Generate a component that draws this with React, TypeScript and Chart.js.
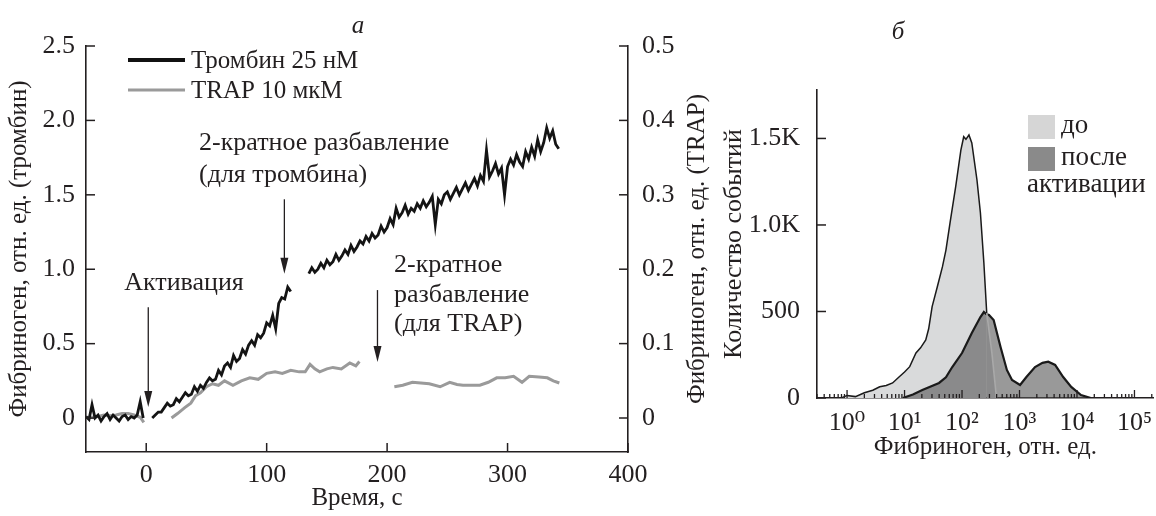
import React, { useEffect, useRef } from "react";
import { Chart, registerables } from "chart.js";

Chart.register(...registerables);

const FONT = '"Liberation Serif", "Times New Roman", "DejaVu Serif", serif';
const INK = "#231f20";

// ---------- Panel а: fibrinogen binding vs time ----------
const thrTimesPre = [-50, -47.5, -45, -42.5, -40, -37.5, -35, -32.5, -30, -27.5, -25, -22.5, -20, -17.5, -15, -12.5, -10, -7.5, -5, -2.5];
const thrValsPre = [0.01, -0.01, 0.09, 0.0, 0.02, -0.02, 0.01, 0.03, -0.01, 0.02, 0.0, -0.02, 0.01, 0.02, -0.01, 0.01, 0.0, 0.02, 0.11, 0.0];

const thrTimes1 = [5, 7.5, 10, 12.5, 15, 17.5, 20, 22.5, 25, 27.5, 30, 32.5, 35, 37.5, 40, 42.5, 45, 47.5, 50, 52.5, 55, 57.5, 60, 62.5, 65, 67.5, 70, 72.5, 75, 77.5, 80, 82.5, 85, 87.5, 90, 92.5, 95, 97.5, 100, 102.5, 105, 107.5, 110, 112.5, 115, 117.5, 120];
const thrVals1 = [0.0, 0.02, 0.04, 0.04, 0.07, 0.1, 0.08, 0.09, 0.13, 0.11, 0.14, 0.17, 0.15, 0.16, 0.21, 0.18, 0.22, 0.2, 0.24, 0.27, 0.25, 0.26, 0.32, 0.29, 0.35, 0.37, 0.34, 0.42, 0.38, 0.4, 0.46, 0.43, 0.49, 0.52, 0.49, 0.56, 0.54, 0.57, 0.64, 0.62, 0.69, 0.6, 0.77, 0.81, 0.8, 0.88, 0.85];

const thrTimes2 = [135, 137.5, 140, 142.5, 145, 147.5, 150, 152.5, 155, 157.5, 160, 162.5, 165, 167.5, 170, 172.5, 175, 177.5, 180, 182.5, 185, 187.5, 190, 192.5, 195, 197.5, 200, 202.5, 205, 207.5, 210, 212.5, 215, 217.5, 220, 222.5, 225, 227.5, 230, 232.5, 235, 237.5, 240, 242.5, 245, 247.5, 250, 252.5, 255, 257.5, 260, 262.5, 265, 267.5, 270, 272.5, 275, 277.5, 280, 282.5, 285, 287.5, 290, 292.5, 295, 297.5, 300, 302.5, 305, 307.5, 310, 312.5, 315, 317.5, 320, 322.5, 325, 327.5, 330, 332.5, 335, 337.5, 340, 342.5];
const thrVals2 = [0.97, 1.01, 0.98, 1.0, 1.04, 1.01, 1.06, 1.03, 1.05, 1.1, 1.06, 1.09, 1.13, 1.1, 1.16, 1.12, 1.15, 1.19, 1.17, 1.22, 1.19, 1.24, 1.21, 1.23, 1.29, 1.25, 1.28, 1.34, 1.3, 1.41, 1.35, 1.38, 1.43, 1.37, 1.41, 1.39, 1.44, 1.41, 1.46, 1.42, 1.45, 1.49, 1.3, 1.47, 1.44, 1.5, 1.52, 1.47, 1.51, 1.55, 1.5, 1.54, 1.58, 1.53, 1.57, 1.61, 1.56, 1.63, 1.59, 1.8, 1.62, 1.66, 1.71, 1.64, 1.68, 1.5, 1.69, 1.74, 1.7, 1.77, 1.72, 1.69, 1.79, 1.74, 1.82, 1.76, 1.87, 1.79, 1.85, 1.95, 1.88, 1.93, 1.84, 1.81];

const trapTimesPre = [-50, -45, -40, -35, -30, -25, -20, -15, -10, -5, -2];
const trapValsPre = [0.0, 0.001, 0.002, 0.004, 0.003, 0.004, 0.006, 0.006, 0.004, 0.001, -0.006];

const trapTimes1 = [21, 26, 32, 37, 41, 45, 50, 55, 60, 65, 72, 79, 86, 93, 100, 107, 113, 120, 127, 132, 136, 140, 144, 150, 155, 162, 169, 174, 177];
const trapVals1 = [0.0, 0.006, 0.014, 0.02, 0.03, 0.034, 0.042, 0.046, 0.044, 0.05, 0.044, 0.05, 0.054, 0.052, 0.06, 0.062, 0.06, 0.064, 0.062, 0.062, 0.072, 0.066, 0.062, 0.066, 0.068, 0.066, 0.074, 0.07, 0.076];

const trapTimes2 = [206, 213, 221, 228, 235, 244, 252, 258, 263, 270, 277, 284, 291, 298, 305, 312, 318, 326, 333, 338, 343];
const trapVals2 = [0.042, 0.044, 0.048, 0.047, 0.046, 0.042, 0.048, 0.045, 0.044, 0.044, 0.044, 0.048, 0.054, 0.054, 0.056, 0.048, 0.056, 0.055, 0.054, 0.05, 0.047];

const xTicksA = [0, 100, 200, 300, 400];
const xTickLabelsA = ["0", "100", "200", "300", "400"];
const yTicksThr = [0, 0.5, 1.0, 1.5, 2.0, 2.5];
const yTickLabelsThr = ["0", "0.5", "1.0", "1.5", "2.0", "2.5"];
const yTicksTrap = [0, 0.1, 0.2, 0.3, 0.4, 0.5];
const yTickLabelsTrap = ["0", "0.1", "0.2", "0.3", "0.4", "0.5"];

// annotation arrows (time, y-top, y-tip in thrombin units)
const arrowTimes = [1.7, 114.7, 192];
const arrowTops = [0.745, 1.47, 0.86];
const arrowTips = [0.074, 0.97, 0.376];

// ---------- Panel б: flow cytometry histogram ----------
const doFluor = [0.8, 1.0, 1.4, 2.0, 2.8, 3.7, 4.8, 6.2, 8.1, 10, 12.3, 15.8, 19, 23.4, 26.3, 30.2, 37, 45.7, 52.5, 63, 77.6, 95.5, 107, 117, 132, 148, 182, 209, 240, 269, 331, 398];
const doCount = [0, 15, 8, 30, 45, 65, 72, 87, 123, 150, 181, 260, 290, 335, 400, 528, 640, 759, 855, 1029, 1221, 1433, 1510, 1495, 1520, 1474, 1260, 1069, 780, 491, 260, 0];

const posleFluor = [9.3, 14, 20.4, 39.8, 52.5, 67.6, 100, 148, 209, 240, 263, 295, 355, 468, 603, 741, 1023, 1318, 1862, 2512, 3162, 4169, 5754, 7943, 11749, 17378];
const posleCount = [0, 20, 46, 87, 120, 179, 260, 376, 468, 497, 485, 480, 451, 295, 162, 104, 75, 121, 179, 203, 210, 191, 121, 64, 17, 0];

const xTicksB = [1, 10, 100, 1000, 10000, 100000];
const xTickLabelsB = ["10⁰", "10¹", "10²", "10³", "10⁴", "10⁵"];
const yTicksB = [0, 500, 1000, 1500];
const yTickLabelsB = ["0", "500", "1.0K", "1.5K"];

const zip = (xs: number[], ys: number[]) => xs.map((x, i) => ({ x, y: ys[i] }));

const font = (size: number, extra: any = {}) => ({ family: FONT, size, ...extra });

function line(ctx: CanvasRenderingContext2D, x1: number, y1: number, x2: number, y2: number) {
  ctx.beginPath();
  ctx.moveTo(x1, y1);
  ctx.lineTo(x2, y2);
  ctx.stroke();
}

function PanelA() {
  const ref = useRef<HTMLCanvasElement>(null);
  useEffect(() => {
    const thrData = [
      ...zip(thrTimesPre, thrValsPre),
      { x: 2, y: null },
      ...zip(thrTimes1, thrVals1),
      { x: 127, y: null },
      ...zip(thrTimes2, thrVals2),
    ];
    const trapData = [
      ...zip(trapTimesPre, trapValsPre),
      { x: 10, y: null },
      ...zip(trapTimes1, trapVals1),
      { x: 190, y: null },
      ...zip(trapTimes2, trapVals2),
    ];
    const decor = {
      id: "decorA",
      afterDraw(chart: any) {
        const { ctx, chartArea: ca, scales } = chart;
        const x = scales.x, y = scales.y, y1 = scales.y1;
        ctx.save();
        ctx.strokeStyle = INK;
        ctx.fillStyle = INK;
        ctx.lineWidth = 1.5;
        x.ticks.forEach((t: any) => {
          const px = x.getPixelForValue(t.value);
          line(ctx, px, ca.bottom, px, ca.bottom - 9);
        });
        y.ticks.forEach((t: any) => {
          const py = y.getPixelForValue(t.value);
          line(ctx, ca.left, py, ca.left + 9, py);
        });
        y1.ticks.forEach((t: any) => {
          const py = y1.getPixelForValue(t.value);
          line(ctx, ca.right, py, ca.right - 9, py);
        });
        // arrows
        ctx.lineWidth = 1.3;
        arrowTimes.forEach((t, i) => {
          const px = x.getPixelForValue(t);
          const p1 = y.getPixelForValue(arrowTops[i]);
          const p2 = y.getPixelForValue(arrowTips[i]);
          line(ctx, px, p1, px, p2 - 10);
          ctx.beginPath();
          ctx.moveTo(px, p2);
          ctx.lineTo(px - 4, p2 - 16);
          ctx.lineTo(px + 4, p2 - 16);
          ctx.closePath();
          ctx.fill();
        });
        // annotation texts
        ctx.font = `26px ${FONT}`;
        ctx.textBaseline = "middle";
        ctx.textAlign = "center";
        ctx.fillText("Активация", 184, 283);
        ctx.textAlign = "left";
        ctx.fillText("2-кратное разбавление", 199, 143);
        ctx.fillText("(для тромбина)", 199, 175);
        ctx.fillText("2-кратное", 394, 265);
        ctx.fillText("разбавление", 394, 295);
        ctx.fillText("(для TRAP)", 394, 324);
        // legend
        ctx.lineWidth = 4;
        ctx.strokeStyle = "#111";
        line(ctx, 128, 60, 185, 60);
        ctx.lineWidth = 3;
        ctx.strokeStyle = "#9a9a9a";
        line(ctx, 128, 90, 185, 90);
        ctx.font = `25px ${FONT}`;
        ctx.fillText("Тромбин 25 нМ", 191, 61);
        ctx.fillText("TRAP 10 мкМ", 191, 91);
        // panel letter
        ctx.textAlign = "center";
        ctx.font = `italic 25px ${FONT}`;
        ctx.fillText("а", 358, 26);
        // right axis title (reads bottom-to-top)
        ctx.save();
        ctx.translate(697, (ca.top + ca.bottom) / 2);
        ctx.rotate(-Math.PI / 2);
        ctx.font = `25px ${FONT}`;
        ctx.fillText("Фибриноген, отн. ед. (TRAP)", 0, 0);
        ctx.restore();
        ctx.restore();
      },
    };
    const chart = new Chart(ref.current!, {
      type: "line",
      data: {
        datasets: [
          {
            label: "Тромбин 25 нМ",
            data: thrData as any,
            borderColor: "#141414",
            borderWidth: 2.8,
            pointRadius: 0,
            tension: 0,
            spanGaps: false,
            yAxisID: "y",
          },
          {
            label: "TRAP 10 мкМ",
            data: trapData as any,
            borderColor: "#9a9a9a",
            borderWidth: 3,
            pointRadius: 0,
            tension: 0,
            spanGaps: false,
            yAxisID: "y1",
          },
        ],
      },
      options: {
        responsive: false,
        animation: false,
        devicePixelRatio: 1,
        layout: { padding: { top: 46, left: 0, right: 0, bottom: 0 } },
        plugins: { legend: { display: false }, tooltip: { enabled: false } },
        scales: {
          x: {
            type: "linear",
            min: -50,
            max: 400,
            afterBuildTicks: (s: any) => {
              s.ticks = xTicksA.map((v) => ({ value: v }));
            },
            ticks: {
              autoSkip: false,
              maxRotation: 0,
              padding: 2,
              color: INK,
              font: font(26, { lineHeight: 1 }),
              callback: (_v: any, i: number) => xTickLabelsA[i],
            },
            grid: { display: false },
            border: { color: INK, width: 1.6 },
            title: {
              display: true,
              text: "Время, с",
              color: INK,
              font: font(25),
              padding: { top: 0, bottom: 3 },
            },
            afterFit: (s: any) => {
              s.height = 64;
            },
          },
          y: {
            type: "linear",
            position: "left",
            min: -0.228,
            max: 2.5,
            afterBuildTicks: (s: any) => {
              s.ticks = yTicksThr.map((v) => ({ value: v }));
            },
            ticks: {
              autoSkip: false,
              padding: 3,
              color: INK,
              font: font(26),
              callback: (_v: any, i: number) => yTickLabelsThr[i],
            },
            grid: { display: false },
            border: { color: INK, width: 1.6 },
            title: {
              display: true,
              text: "Фибриноген, отн. ед. (тромбин)",
              color: INK,
              font: font(25),
              padding: { top: 4, bottom: 0 },
            },
            afterFit: (s: any) => {
              s.width = 86;
            },
          },
          y1: {
            type: "linear",
            position: "right",
            min: -0.0457,
            max: 0.5,
            afterBuildTicks: (s: any) => {
              s.ticks = yTicksTrap.map((v) => ({ value: v }));
            },
            ticks: {
              autoSkip: false,
              padding: 6,
              color: INK,
              font: font(26),
              callback: (_v: any, i: number) => yTickLabelsTrap[i],
            },
            grid: { display: false },
            border: { color: INK, width: 1.6 },
            afterFit: (s: any) => {
              s.width = 84;
            },
          },
        },
      } as any,
      plugins: [decor],
    });
    return () => chart.destroy();
  }, []);
  return <canvas ref={ref} width={712} height={516} style={{ position: "absolute", left: 0, top: 0 }} />;
}

function PanelB() {
  const ref = useRef<HTMLCanvasElement>(null);
  useEffect(() => {
    const doPts = zip(doFluor, doCount);
    const posle = zip(posleFluor, posleCount);
    const tail = doPts.filter((p) => p.x >= 269);
    const decor = {
      id: "decorB",
      afterDraw(chart: any) {
        const { ctx, chartArea: ca, scales } = chart;
        const x = scales.x, y = scales.y;
        ctx.save();
        ctx.strokeStyle = INK;
        ctx.fillStyle = INK;
        ctx.lineWidth = 1.3;
        for (let d = -1; d <= 5; d++) {
          for (let k = 1; k <= 9; k++) {
            const v = k * Math.pow(10, d);
            if (v < x.min || v > x.max) continue;
            const px = x.getPixelForValue(v);
            line(ctx, px, ca.bottom, px, ca.bottom - (k === 1 ? 8 : 4));
          }
        }
        ctx.lineWidth = 1.5;
        y.ticks.forEach((t: any) => {
          const py = y.getPixelForValue(t.value);
          line(ctx, ca.left, py, ca.left + 9, py);
        });
        // legend
        ctx.fillStyle = "#d6d6d6";
        ctx.fillRect(316, 115, 27, 24);
        ctx.fillStyle = "#8a8a8a";
        ctx.fillRect(316, 147, 27, 24);
        ctx.fillStyle = INK;
        ctx.font = `27px ${FONT}`;
        ctx.textBaseline = "middle";
        ctx.textAlign = "left";
        ctx.fillText("до", 349, 126);
        ctx.fillText("после", 349, 158);
        ctx.fillText("активации", 315, 185);
        // panel letter
        ctx.textAlign = "center";
        ctx.font = `italic 25px ${FONT}`;
        ctx.fillText("б", 186, 32);
        ctx.restore();
      },
    };
    const chart = new Chart(ref.current!, {
      type: "line",
      data: {
        datasets: [
          {
            label: "до (хвост)",
            data: tail as any,
            borderColor: "#a9a9a9",
            borderWidth: 1.6,
            pointRadius: 0,
            fill: false,
            order: 0,
          },
          {
            label: "после активации",
            data: posle as any,
            borderColor: "#1a1a1a",
            borderWidth: 2.2,
            backgroundColor: "rgba(85,85,85,0.6)",
            fill: "origin",
            pointRadius: 0,
            order: 1,
          },
          {
            label: "до",
            data: doPts as any,
            borderColor: "#1a1a1a",
            borderWidth: 1.5,
            backgroundColor: "#d9dadb",
            fill: "origin",
            pointRadius: 0,
            order: 2,
            segment: {
              borderColor: (c: any) => (c.p0.parsed.x >= 268 ? "rgba(0,0,0,0)" : "#1a1a1a"),
            },
          },
        ],
      },
      options: {
        responsive: false,
        animation: false,
        devicePixelRatio: 1,
        layout: { padding: { top: 90, left: 0, right: 0, bottom: 0 } },
        plugins: { legend: { display: false }, tooltip: { enabled: false } },
        scales: {
          x: {
            type: "logarithmic",
            min: 0.302,
            max: 218000,
            afterBuildTicks: (s: any) => {
              s.ticks = xTicksB.map((v) => ({ value: v }));
            },
            ticks: {
              autoSkip: false,
              maxRotation: 0,
              padding: 4,
              color: INK,
              font: font(26, { lineHeight: 1 }),
              callback: (_v: any, i: number) => xTickLabelsB[i],
            },
            grid: { display: false },
            border: { color: INK, width: 1.6 },
            title: {
              display: true,
              text: "Фибриноген, отн. ед.",
              color: INK,
              font: font(25),
              padding: { top: 0, bottom: 54 },
            },
            afterFit: (s: any) => {
              s.height = 118;
            },
          },
          y: {
            type: "linear",
            min: 0,
            max: 1780,
            afterBuildTicks: (s: any) => {
              s.ticks = yTicksB.map((v) => ({ value: v }));
            },
            ticks: {
              autoSkip: false,
              padding: 9,
              color: INK,
              font: font(26),
              callback: (_v: any, i: number) => yTickLabelsB[i],
            },
            grid: { display: false },
            border: { color: INK, width: 1.6 },
            title: {
              display: true,
              text: "Количество событий",
              color: INK,
              font: font(26),
              padding: { top: 7, bottom: 0 },
            },
            afterFit: (s: any) => {
              s.width = 105;
            },
          },
        },
      } as any,
      plugins: [decor],
    });
    return () => chart.destroy();
  }, []);
  return <canvas ref={ref} width={444} height={516} style={{ position: "absolute", left: 712, top: 0 }} />;
}

export default function App() {
  return (
    <div style={{ position: "absolute", left: 0, top: 0, width: 1156, height: 516, background: "#fff" }}>
      <PanelA />
      <PanelB />
    </div>
  );
}
